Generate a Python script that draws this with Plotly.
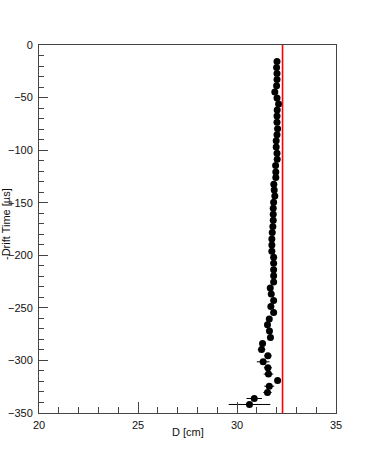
import plotly.graph_objects as go

# Data
drift_time = [-15.6, -21.3, -27.0, -32.7, -38.8, -44.8, -50.5, -56.2, -61.9, -67.6,
              -73.4, -79.7, -85.4, -91.1, -96.9, -102.9, -108.6, -114.6, -120.7, -126.1,
              -132.4, -137.8, -143.5, -149.6, -155.3, -161.0, -166.7, -172.7,
              -178.4, -184.5, -190.2, -196.2, -201.9, -207.6, -213.7, -219.4, -225.4,
              -231.1, -236.9, -242.9, -248.6, -254.3, -260.7, -266.1, -272.1, -278.1,
              -283.8, -289.6, -295.6, -301.3, -307.0, -313.0, -319.1, -324.5, -330.5,
              -336.2, -341.9]
distance = [32.02, 32.00, 32.02, 32.02, 32.00, 31.91, 32.02, 32.10, 32.03, 32.02,
            32.02, 32.05, 32.02, 31.98, 31.98, 32.02, 32.03, 31.95, 31.96, 31.96,
            31.86, 31.88, 31.91, 31.85, 31.83, 31.83, 31.83, 31.81,
            31.78, 31.76, 31.76, 31.76, 31.85, 31.85, 31.85, 31.85, 31.85,
            31.68, 31.73, 31.85, 31.71, 31.85, 31.63, 31.54, 31.64, 31.69,
            31.29, 31.24, 31.56, 31.32, 31.56, 31.59, 32.05, 31.63, 31.54,
            30.87, 30.63]
distance_err = [0.03] * 28 + [0.04] * 17 + [0.05,
                0.10, 0.19, 0.19, 0.32, 0.20, 0.24, 0.08, 0.25, 0.21, 0.39, 1.05]
reference_d = 32.3

x_range = [20, 35]
y_range = [-350, 0]

W, H = 374, 460
ML, MR, MT, MB = 39, 38, 45, 47

fig = go.Figure()

fig.add_trace(go.Scatter(
    x=distance, y=drift_time, mode="markers",
    marker=dict(color="black", size=7, symbol="circle"),
    error_x=dict(type="data", array=distance_err, color="black", thickness=1, width=0),
    showlegend=False,
))

fig.add_trace(go.Scatter(
    x=[reference_d, reference_d], y=y_range, mode="lines",
    line=dict(color="red", width=1.6), showlegend=False,
))

font = dict(family="Liberation Sans, Arial, sans-serif", size=11, color="#111")

plot_w = W - ML - MR
plot_h = H - MT - MB

fig.update_layout(
    width=W, height=H, autosize=False,
    margin=dict(l=ML, r=MR, t=MT, b=MB, pad=0),
    paper_bgcolor="white", plot_bgcolor="white",
    font=font,
    xaxis=dict(range=x_range, dtick=5, tick0=20, ticks="inside", ticklen=11,
               tickcolor="#444", tickwidth=1, showline=True, linecolor="#444",
               linewidth=1, mirror=True, showgrid=False, zeroline=False,
               minor=dict(dtick=1, ticks="inside", ticklen=6, tickcolor="#444"),
               tickfont=font, ticklabelstandoff=2, automargin=False),
    yaxis=dict(range=y_range, dtick=50, tick0=0, ticks="inside", ticklen=9,
               tickcolor="#444", tickwidth=1, showline=True, linecolor="#444",
               linewidth=1, mirror=True, showgrid=False, zeroline=False,
               minor=dict(dtick=10, ticks="inside", ticklen=5, tickcolor="#444"),
               tickfont=font, ticklabelstandoff=3, automargin=False),
    annotations=[
        dict(text="D [cm]", xref="paper", yref="paper", x=0.5,
             y=(H - MB - 431.5) / plot_h, xanchor="center", yanchor="middle",
             showarrow=False, font=font),
        dict(text="-Drift Time [µs]", xref="paper", yref="paper",
             x=(6 - ML) / plot_w, y=(H - MB - 224) / plot_h,
             xanchor="center", yanchor="middle", textangle=-90,
             showarrow=False, font=font),
    ],
)

fig.write_html("out.html", config={"displayModeBar": False})

# remove the browser's default body margin so the figure sits at (0, 0)
with open("out.html", encoding="utf-8") as f:
    html = f.read()
html = html.replace("<head>", "<head><style>html,body{margin:0;padding:0;}</style>", 1)
with open("out.html", "w", encoding="utf-8") as f:
    f.write(html)
